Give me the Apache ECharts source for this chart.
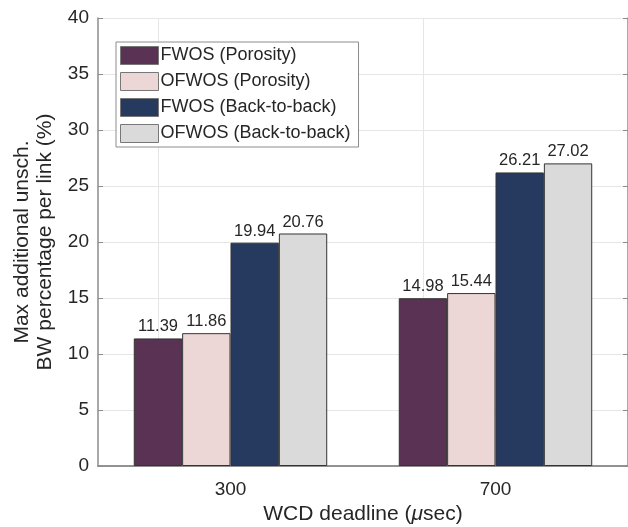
<!DOCTYPE html>
<html>
<head>
<meta charset="utf-8">
<script src="https://cdn.jsdelivr.net/npm/echarts@6/dist/echarts.min.js"></script>
<style>
  html, body { margin: 0; padding: 0; background: #fff; }
  #chart { width: 628px; height: 527px; }
</style>
</head>
<body>
<div id="chart"></div>
<script>
// Deadlines on the x axis
const categories = ['300', '700'];

// Series names and values (max additional unscheduled BW %, per link)
const seriesNames = [
  'FWOS (Porosity)',
  'OFWOS (Porosity)',
  'FWOS (Back-to-back)',
  'OFWOS (Back-to-back)'
];
const fwosPorosity = [11.39, 14.98];
const ofwosPorosity = [11.86, 15.44];
const fwosBackToBack = [19.94, 26.21];
const ofwosBackToBack = [20.76, 27.02];

const yTicks = [0, 5, 10, 15, 20, 25, 30, 35, 40];

const values = [fwosPorosity, ofwosPorosity, fwosBackToBack, ofwosBackToBack];
const colors = ['#5a3253', '#ecd6d6', '#263a5f', '#dadada'];

const FONT = '"Liberation Sans", Arial, Helvetica, sans-serif';
const TEXT = '#262626';
const AXIS = '#8c8c8c';

const chart = echarts.init(document.getElementById('chart'), null, { renderer: 'canvas' });

const series = values.map((v, i) => ({
  name: seriesNames[i],
  type: 'bar',
  data: v,
  barGap: '0%',
  barCategoryGap: '27%',
  itemStyle: { color: colors[i], borderColor: '#333333', borderWidth: 1 },
  label: {
    show: true,
    position: 'top',
    distance: 3,
    formatter: p => p.value.toFixed(2),
    color: TEXT,
    fontFamily: FONT,
    fontSize: 16.5
  }
}));

// vertical grid lines through the category centres
series[0].markLine = {
  silent: true,
  symbol: 'none',
  label: { show: false },
  lineStyle: { color: '#e6e6e6', width: 1, type: 'solid' },
  z: 0,
  data: categories.map(c => ({ xAxis: c }))
};

chart.setOption({
  animation: false,
  backgroundColor: '#ffffff',
  textStyle: { fontFamily: FONT },
  grid: { left: 98, right: 0, top: 18, bottom: 61, containLabel: false, outerBoundsMode: 'none' },
  legend: {
    orient: 'vertical',
    left: 116,
    top: 42,
    itemWidth: 38,
    itemHeight: 18,
    itemGap: 7,
    padding: [4, 8, 4, 4],
    backgroundColor: '#ffffff',
    borderColor: '#8c8c8c',
    borderWidth: 1,
    borderRadius: 0,
    icon: 'rect',
    itemStyle: { borderColor: '#777777', borderWidth: 1 },
    textStyle: { color: TEXT, fontFamily: FONT, fontSize: 18, padding: [0, 0, 0, -3] },
    data: seriesNames
  },
  xAxis: [
    {
      type: 'category',
      data: categories,
      position: 'bottom',
      axisLine: { show: true, lineStyle: { color: AXIS, width: 1.5 } },
      axisTick: { show: false },
      axisLabel: { color: TEXT, fontFamily: FONT, fontSize: 19, margin: 14 },
      splitLine: { show: false },
      name: 'WCD deadline ({i|μ}sec)',
      nameLocation: 'middle',
      nameGap: 38,
      nameTextStyle: {
        color: TEXT, fontFamily: FONT, fontSize: 21,
        rich: { i: { fontStyle: 'italic', fontFamily: FONT, fontSize: 21, color: TEXT } }
      }
    },
    {
      type: 'category',
      data: categories,
      position: 'top',
      axisLine: { show: true, lineStyle: { color: AXIS, width: 1.5 } },
      axisTick: { show: false },
      axisLabel: { show: false },
      splitLine: { show: false }
    }
  ],
  yAxis: [
    {
      type: 'value',
      min: 0,
      max: 40,
      interval: 5,
      position: 'left',
      axisLine: { show: true, lineStyle: { color: AXIS, width: 1.5 } },
      axisTick: { show: true, inside: true, length: 5, lineStyle: { color: AXIS } },
      axisLabel: {
        color: TEXT, fontFamily: FONT, fontSize: 19, margin: 9,
        formatter: v => (yTicks.includes(v) ? String(v) : '')
      },
      splitLine: { show: true, lineStyle: { color: '#e6e6e6', width: 1 } },
      name: 'Max additional unsch.\nBW percentage per link (%)',
      nameLocation: 'middle',
      nameGap: 41,
      nameRotate: 90,
      nameTextStyle: { color: TEXT, fontFamily: FONT, fontSize: 21, lineHeight: 23 }
    },
    {
      type: 'value',
      min: 0,
      max: 40,
      interval: 5,
      position: 'right',
      axisLine: { show: true, lineStyle: { color: AXIS, width: 1.5 } },
      axisTick: { show: true, inside: true, length: 5, lineStyle: { color: AXIS } },
      axisLabel: { show: false },
      splitLine: { show: false }
    }
  ],
  series: series
});
</script>
</body>
</html>
